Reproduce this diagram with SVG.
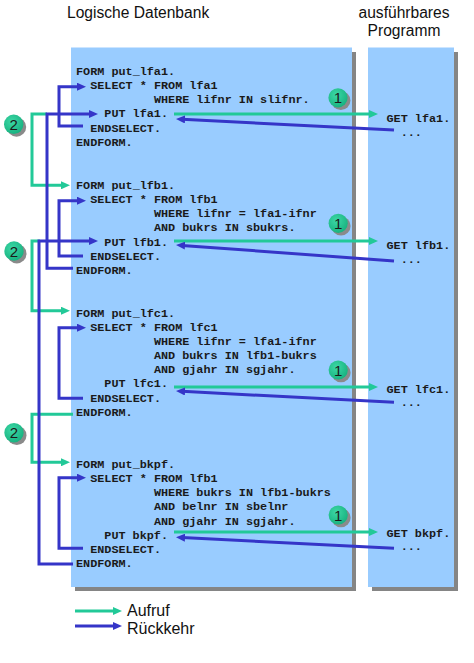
<svg xmlns="http://www.w3.org/2000/svg" width="474" height="663" viewBox="0 0 474 663">
<style>
.panel{fill:#99CCFF}
.shadow{fill:#858585}
.title{font-family:"Liberation Sans",Arial,sans-serif;font-size:15.6px;fill:#111}
.legend{font-family:"Liberation Sans",Arial,sans-serif;font-size:16px;fill:#111}
.code{font-family:"Liberation Mono","Courier New",monospace;font-size:11.8px;font-weight:bold;fill:#1a1a1a}
.g{fill:none;stroke:#22C998;stroke-width:3;marker-end:url(#ag)}
.b{fill:none;stroke:#3535C8;stroke-width:3;marker-end:url(#ab)}
.cs{fill:#8A8A8A}
.cf{fill:url(#cg)}
.num{font-family:"Liberation Sans",Arial,sans-serif;font-size:15px;fill:#1a1a1a;text-anchor:middle}
</style>
<defs>
<marker id="ag" markerUnits="userSpaceOnUse" markerWidth="9" markerHeight="8" refX="3" refY="4" orient="auto"><path d="M0,0 L9,4 L0,8 z" fill="#22C998"/></marker>
<marker id="ab" markerUnits="userSpaceOnUse" markerWidth="9" markerHeight="8" refX="3" refY="4" orient="auto"><path d="M0,0 L9,4 L0,8 z" fill="#3535C8"/></marker>
<radialGradient id="cg" cx="0.4" cy="0.35" r="0.7"><stop offset="0" stop-color="#3CD8A6"/><stop offset="1" stop-color="#16B07E"/></radialGradient>
</defs>

<g id="titles">
<text class="title" x="67" y="18">Logische Datenbank</text>
<text class="title" x="404" y="18" text-anchor="middle">ausführbares</text>
<text class="title" x="404" y="36" text-anchor="middle">Programm</text>
</g>

<g id="panel-ldb">
<rect class="shadow" x="75" y="52" width="281" height="539"/>
<rect class="panel" x="71" y="47.5" width="281" height="539.5"/>
</g>
<g id="panel-prog">
<rect class="shadow" x="372" y="52" width="86" height="539"/>
<rect class="panel" x="368" y="47.5" width="86" height="539.5"/>
</g>

<g id="form-lfa1" class="code">
<text x="76" y="75">FORM put_lfa1.</text>
<text x="90.2" y="89.15">SELECT * FROM lfa1</text>
<text x="153.9" y="103.3">WHERE lifnr IN slifnr.</text>
<text x="104.3" y="117.45">PUT lfa1.</text>
<text x="90.2" y="131.6">ENDSELECT.</text>
<text x="76" y="145.75">ENDFORM.</text>
</g>
<g id="form-lfb1" class="code">
<text x="76" y="189">FORM put_lfb1.</text>
<text x="90.2" y="203.15">SELECT * FROM lfb1</text>
<text x="153.9" y="217.3">WHERE lifnr = lfa1-ifnr</text>
<text x="153.9" y="231.45">AND bukrs IN sbukrs.</text>
<text x="104.3" y="245.6">PUT lfb1.</text>
<text x="90.2" y="259.75">ENDSELECT.</text>
<text x="76" y="273.9">ENDFORM.</text>
</g>
<g id="form-lfc1" class="code">
<text x="76" y="316.7">FORM put_lfc1.</text>
<text x="90.2" y="330.85">SELECT * FROM lfc1</text>
<text x="153.9" y="345">WHERE lifnr = lfa1-ifnr</text>
<text x="153.9" y="359.15">AND bukrs IN lfb1-bukrs</text>
<text x="153.9" y="373.3">AND gjahr IN sgjahr.</text>
<text x="104.3" y="387.45">PUT lfc1.</text>
<text x="90.2" y="401.6">ENDSELECT.</text>
<text x="76" y="415.75">ENDFORM.</text>
</g>
<g id="form-bkpf" class="code">
<text x="76" y="468">FORM put_bkpf.</text>
<text x="90.2" y="482.15">SELECT * FROM lfb1</text>
<text x="153.9" y="496.3">WHERE bukrs IN lfb1-bukrs</text>
<text x="153.9" y="510.45">AND belnr IN sbelnr</text>
<text x="153.9" y="524.6">AND gjahr IN sgjahr.</text>
<text x="104.3" y="538.75">PUT bkpf.</text>
<text x="90.2" y="552.9">ENDSELECT.</text>
<text x="76" y="567.05">ENDFORM.</text>
</g>

<g id="get-lfa1" class="code"><text x="386.5" y="122">GET lfa1.</text><text x="400.7" y="136">...</text></g>
<g id="get-lfb1" class="code"><text x="386.5" y="249">GET lfb1.</text><text x="400.7" y="263">...</text></g>
<g id="get-lfc1" class="code"><text x="386.5" y="393">GET lfc1.</text><text x="400.7" y="406">...</text></g>
<g id="get-bkpf" class="code"><text x="386.5" y="537">GET bkpf.</text><text x="400.7" y="550">...</text></g>

<g id="connectors">
<path class="g" d="M47,114 H32 V185.3 H64"/>
<path class="g" d="M40,241 H32 V310.7 H64"/>
<path class="g" d="M73,414.3 H32 V462.3 H64"/>
<path class="g" d="M174,114 H372"/>
<path class="g" d="M174,241 H372"/>
<path class="g" d="M174,387 H372"/>
<path class="g" d="M174,532 H372"/>
<path class="b" d="M83,126 H59 V86.7 H80"/>
<path class="b" d="M83,256 H59 V200.7 H80"/>
<path class="b" d="M83,398.3 H59 V327.7 H80"/>
<path class="b" d="M83,548.3 H59 V477.7 H80"/>
<path class="b" d="M73,268.3 H47 V114 H92"/>
<path class="b" d="M73,564 H39 V241 H92"/>
<path class="b" d="M394,130 L182,119.3"/>
<path class="b" d="M394,261 L182,245.4"/>
<path class="b" d="M394,402.3 L182,391.3"/>
<path class="b" d="M394,548.3 L182,537.6"/>
</g>

<g id="badge-2a"><circle class="cs" cx="16.5" cy="127" r="9.7"/><circle class="cf" cx="13.7" cy="124.3" r="9.7"/><text class="num" x="13.7" y="130">2</text></g>
<g id="badge-2b"><circle class="cs" cx="16.8" cy="253.7" r="9.7"/><circle class="cf" cx="14" cy="251" r="9.7"/><text class="num" x="14" y="256.5">2</text></g>
<g id="badge-2c"><circle class="cs" cx="16.8" cy="435.4" r="9.7"/><circle class="cf" cx="14" cy="432.7" r="9.7"/><text class="num" x="14" y="438.2">2</text></g>
<g id="badge-1a"><circle class="cs" cx="340.8" cy="100.5" r="9.6"/><circle class="cf" cx="338" cy="97.8" r="9.6"/><text class="num" x="338" y="103.3">1</text></g>
<g id="badge-1b"><circle class="cs" cx="341" cy="226" r="9.6"/><circle class="cf" cx="338.2" cy="223.3" r="9.6"/><text class="num" x="338.2" y="228.8">1</text></g>
<g id="badge-1c"><circle class="cs" cx="341" cy="372.7" r="9.6"/><circle class="cf" cx="338.2" cy="370" r="9.6"/><text class="num" x="338.2" y="375.5">1</text></g>
<g id="badge-1d"><circle class="cs" cx="341" cy="517.7" r="9.6"/><circle class="cf" cx="338.2" cy="515" r="9.6"/><text class="num" x="338.2" y="520.5">1</text></g>

<g id="legend">
<path class="g" d="M75,611 H116"/>
<path class="b" d="M75,626 H116"/>
<text class="legend" x="127" y="615.5">Aufruf</text>
<text class="legend" x="127" y="633.5">Rückkehr</text>
</g>
</svg>
